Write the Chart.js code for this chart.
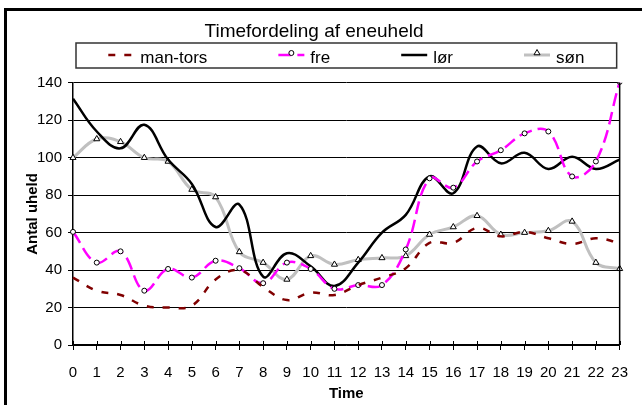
<!DOCTYPE html>
<html>
<head>
<meta charset="utf-8">
<script src="https://cdn.jsdelivr.net/npm/chart.js@4/dist/chart.umd.min.js"></script>
<style>
  html, body { margin: 0; padding: 0; background: #fff; }
  #wrap { width: 642px; height: 405px; }
</style>
</head>
<body>
<div id="wrap"><canvas id="c" width="642" height="405"></canvas></div>
<script>
// ---- data ----
const hours = ['0','1','2','3','4','5','6','7','8','9','10','11','12','13','14','15','16','17','18','19','20','21','22','23'];
const seriesNames = ['man-tors', 'fre', 'lør', 'søn'];
const manTors = [36, 29, 26.7, 21, 20, 21, 35, 40, 31, 24, 28, 26.7, 32, 36, 41, 54.5, 54.5, 62.5, 58, 60.4, 57, 54, 57, 54.5];
const fre     = [60.4, 44, 50, 29, 40.6, 36, 45, 41, 33, 44, 40.6, 30, 32, 32, 51, 89, 84, 98, 104, 113, 114, 90, 98, 140.5];
const lor     = [131.5, 114, 105, 117.6, 99, 86, 63, 75, 36.5, 49, 42, 31.5, 44, 60, 69.5, 90, 81, 106, 97, 102.6, 94, 100.5, 94, 99];
const son     = [100, 110, 108.5, 100, 98, 83, 79, 49.7, 44, 35, 47.6, 43, 45.5, 46.5, 47.6, 59, 63, 69, 59, 60, 61, 66, 44, 40.7];
const yTicks  = { min: 0, max: 140, step: 20 };
const chartTitle = 'Timefordeling af eneuheld';
const xTitle = 'Time';
const yTitle = 'Antal uheld';

const FONT = '"Liberation Sans", Arial, sans-serif';

const decor = {
  id: 'decor',
  beforeDraw(chart) {
    const ctx = chart.ctx;
    ctx.save();
    ctx.fillStyle = '#fff';
    ctx.fillRect(0, 0, chart.width, chart.height);
    ctx.restore();
  },
  afterDraw(chart) {
    const ctx = chart.ctx;
    const a = chart.chartArea;
    ctx.save();
    // outer frame (left + top, thick)
    ctx.fillStyle = '#000';
    ctx.fillRect(4, 8, 3, chart.height - 8);
    ctx.fillRect(4, 8, chart.width - 4, 3);
    // right border of plot area
    ctx.strokeStyle = '#000';
    ctx.lineWidth = 1.5;
    ctx.beginPath();
    ctx.moveTo(a.right, a.top);
    ctx.lineTo(a.right, a.bottom);
    ctx.stroke();
    // x tick marks crossing above the axis
    const xs = chart.scales.x;
    ctx.lineWidth = 1;
    ctx.beginPath();
    for (let i = 0; i < xs.ticks.length; i++) {
      const px = Math.round(xs.getPixelForTick(i)) + 0.5;
      ctx.moveTo(px, a.bottom - 4);
      ctx.lineTo(px, a.bottom);
    }
    ctx.stroke();

    // legend box
    const bx0 = a.left + 3, bx1 = a.right - 3, by0 = 43, by1 = 68;
    ctx.strokeStyle = '#333';
    ctx.lineWidth = 1.5;
    ctx.strokeRect(bx0, by0, bx1 - bx0, by1 - by0);

    ctx.font = '17px ' + FONT;
    const sampleW = 26, sampleGap = 6, itemGap = 71;
    const ds = chart.data.datasets;
    const widths = ds.map(d => sampleW + sampleGap + ctx.measureText(d.label).width);
    const total = widths.reduce((s, w) => s + w, 0) + itemGap * (ds.length - 1);
    let x = (bx0 + bx1) / 2 - total / 2;
    const sy = 55;
    ds.forEach((d, i) => {
      ctx.save();
      ctx.strokeStyle = d.borderColor;
      ctx.lineWidth = d.borderWidth;
      ctx.setLineDash(d.borderDash || []);
      ctx.beginPath();
      ctx.moveTo(x, sy);
      ctx.lineTo(x + sampleW, sy);
      ctx.stroke();
      ctx.setLineDash([]);
      if (d.pointRadius > 0) {
        ctx.fillStyle = d.pointBackgroundColor;
        ctx.strokeStyle = d.pointBorderColor;
        ctx.lineWidth = d.pointBorderWidth;
        Chart.helpers.drawPoint(ctx, { pointStyle: d.pointStyle, radius: d.pointRadius, rotation: 0, borderWidth: d.pointBorderWidth }, x + sampleW / 2, sy - 2);
      }
      ctx.restore();
      ctx.fillStyle = '#000';
      ctx.textBaseline = 'middle';
      ctx.textAlign = 'left';
      ctx.fillText(d.label, x + sampleW + sampleGap, 58);
      x += widths[i] + itemGap;
    });
    ctx.restore();
  }
};

new Chart(document.getElementById('c'), {
  type: 'line',
  data: {
    labels: hours,
    datasets: [
      { label: seriesNames[0], data: manTors, borderColor: '#800000', borderWidth: 2.5, borderDash: [7, 9],
        pointRadius: 0, tension: 0.4, fill: false },
      { label: seriesNames[1], data: fre, borderColor: '#FF00FF', borderWidth: 2.5, borderDash: [13, 6],
        pointRadius: 2.5, pointStyle: 'circle', pointBackgroundColor: '#fff', pointBorderColor: '#000', pointBorderWidth: 1,
        tension: 0.4, fill: false },
      { label: seriesNames[2], data: lor, borderColor: '#000000', borderWidth: 2.5,
        pointRadius: 0, tension: 0.4, fill: false },
      { label: seriesNames[3], data: son, borderColor: '#C0C0C0', borderWidth: 3,
        pointRadius: 3.5, pointStyle: 'triangle', pointBackgroundColor: '#fff', pointBorderColor: '#000', pointBorderWidth: 1,
        tension: 0.4, fill: false }
    ]
  },
  options: {
    responsive: false,
    animation: false,
    devicePixelRatio: 1,
    layout: { padding: { left: 8, right: 22, top: 0, bottom: 0 } },
    plugins: {
      legend: { display: false },
      tooltip: { enabled: false },
      title: {
        display: true, text: chartTitle, color: '#000',
        font: { family: FONT, size: 19, weight: 'normal' },
        padding: { top: 20, bottom: 40 }
      }
    },
    scales: {
      x: {
        type: 'category', offset: false,
        grid: { display: true, drawOnChartArea: false, color: '#000', lineWidth: 1, tickLength: 5 },
        border: { color: '#000', width: 1.5 },
        ticks: { color: '#000', font: { family: FONT, size: 15 }, padding: 14, maxRotation: 0, autoSkip: false },
        title: { display: true, text: xTitle, color: '#000', font: { family: FONT, size: 15, weight: 'bold' }, padding: { top: 0, bottom: 2 } },
        afterFit(s) { s.height = 60; }
      },
      y: {
        min: yTicks.min, max: yTicks.max,
        ticks: { stepSize: yTicks.step, color: '#000', font: { family: FONT, size: 15 }, padding: 6 },
        grid: { color: '#000', lineWidth: 1, tickLength: 5 },
        border: { color: '#000', width: 1.5 },
        title: { display: true, text: yTitle, color: '#000', font: { family: FONT, size: 15, weight: 'bold' }, padding: { top: 16, bottom: 0 } },
        afterFit(s) { s.width = 65; }
      }
    }
  },
  plugins: [decor]
});
</script>
</body>
</html>
